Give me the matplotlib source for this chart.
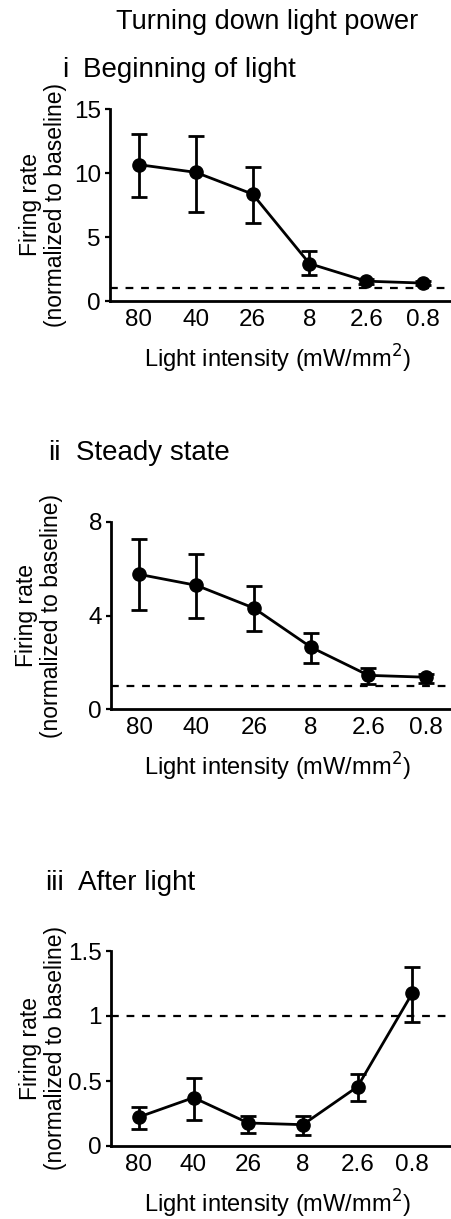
import numpy as np
import matplotlib
matplotlib.use("Agg")
import matplotlib.pyplot as plt

plt.rcParams["font.family"] = ["Liberation Sans", "DejaVu Sans"]

# Data
intensity = ["80", "40", "26", "8", "2.6", "0.8"]

begin_mean = [10.65, 10.05, 8.35, 2.92, 1.55, 1.40]
begin_hi   = [13.05, 12.90, 10.45, 3.88, 1.75, 1.55]
begin_lo   = [8.15, 6.95, 6.08, 2.00, 1.35, 1.25]

steady_mean = [5.76, 5.29, 4.32, 2.64, 1.44, 1.36]
steady_hi   = [7.27, 6.65, 5.25, 3.24, 1.74, 1.50]
steady_lo   = [4.25, 3.89, 3.32, 1.95, 1.08, 1.11]

after_mean = [0.223, 0.372, 0.177, 0.164, 0.456, 1.174]
after_hi   = [0.300, 0.526, 0.228, 0.228, 0.551, 1.377]
after_lo   = [0.128, 0.200, 0.097, 0.087, 0.349, 0.954]

W, H = 451, 1219
fig = plt.figure(figsize=(W / 100, H / 100), dpi=100)


def px_axes(left, top, right, bottom):
    return fig.add_axes([left / W, 1 - bottom / H, (right - left) / W, (bottom - top) / H])


panels = [
    # (left, top, right, bottom), mean, hi, lo, ylim, yticks, ytick labels, xlim, ylabel x (px)
    ((110, 109, 451, 301), begin_mean, begin_hi, begin_lo, (0, 15), [0, 5, 10, 15],
     ["0", "5", "10", "15"], (-0.51, 5.49), 43),
    ((111, 522, 451, 709), steady_mean, steady_hi, steady_lo, (0, 8), [0, 4, 8],
     ["0", "4", "8"], (-0.49, 5.44), 39),
    ((111, 951, 451, 1146), after_mean, after_hi, after_lo, (0, 1.5), [0, 0.5, 1, 1.5],
     ["0", "0.5", "1", "1.5"], (-0.51, 5.71), 43),
]

for box, mean, hi, lo, ylim, yt, ytl, xlim, ylx in panels:
    ax = px_axes(*box)
    x = np.arange(len(intensity))
    mean = np.array(mean)
    yerr = [mean - np.array(lo), np.array(hi) - mean]
    ax.axhline(1, color="black", lw=1.6, ls=(0, (3.5, 3.5)), zorder=1)
    ax.errorbar(x, mean, yerr=yerr, fmt="o-", color="black", ms=9.5, lw=2,
                elinewidth=2, capsize=5.5, capthick=2, zorder=3)
    ax.set_xlim(*xlim)
    ax.set_ylim(*ylim)
    ax.set_xticks(x)
    ax.set_xticklabels(intensity)
    ax.set_yticks(yt)
    ax.set_yticklabels(ytl)
    ax.tick_params(axis="x", length=0, pad=6, labelsize=17.5)
    ax.tick_params(axis="y", length=3.5, width=1.6, pad=3, labelsize=17.5)
    for s in ["top", "right"]:
        ax.spines[s].set_visible(False)
    for s in ["left", "bottom"]:
        ax.spines[s].set_linewidth(2)
    ax.set_ylabel("Firing rate\n(normalized to baseline)", fontsize=16.5,
                  va="center", ha="center", linespacing=1.15)
    ax.yaxis.set_label_coords((ylx - box[0]) / (box[2] - box[0]), 0.5)
    ax.set_xlabel("Light intensity (mW/mm$^2$)", fontsize=17)
    ax.xaxis.set_label_coords((277 - box[0]) / (box[2] - box[0]),
                              -58 / (box[3] - box[1]))
    ax.xaxis.label.set_va("center")

fig.text(267 / W, 1 - 22 / H, "Turning down light power", fontsize=19.5,
         ha="center", va="center")
fig.text(62 / W, 1 - 70 / H, "i", fontsize=20, ha="left", va="center")
fig.text(83 / W, 1 - 70 / H, "Beginning of light", fontsize=20, ha="left", va="center")
fig.text(48 / W, 1 - 453 / H, "ii", fontsize=20, ha="left", va="center")
fig.text(76 / W, 1 - 453 / H, "Steady state", fontsize=20, ha="left", va="center")
fig.text(45 / W, 1 - 883 / H, "iii", fontsize=20, ha="left", va="center")
fig.text(78 / W, 1 - 883 / H, "After light", fontsize=20, ha="left", va="center")

fig.savefig("out.png", dpi=100)
